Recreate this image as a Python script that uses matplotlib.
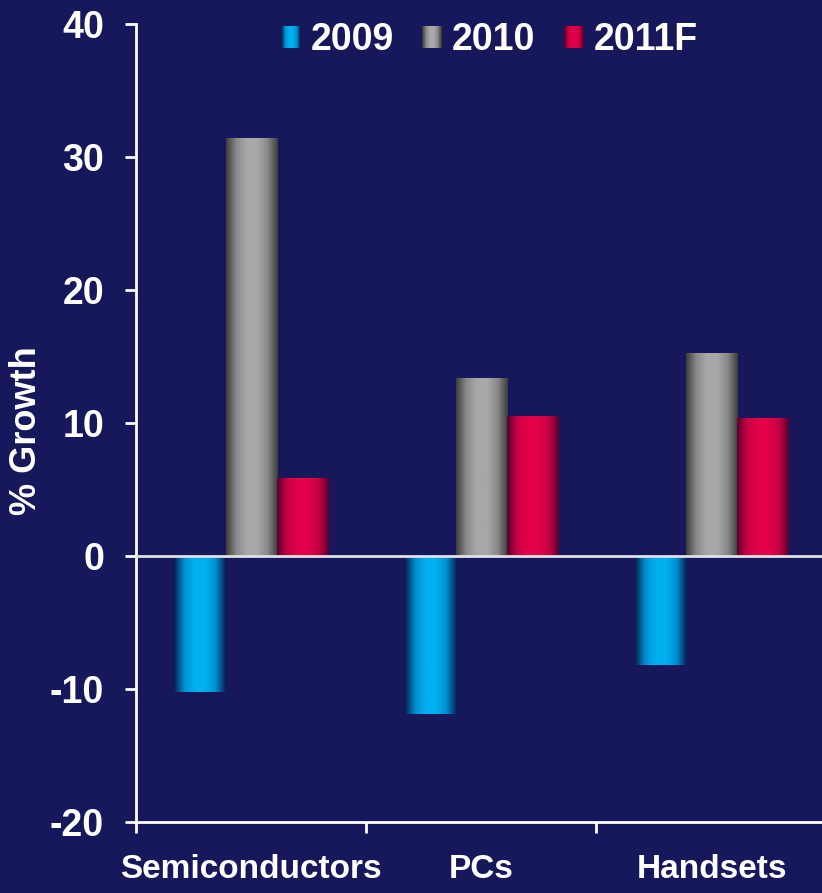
import numpy as np
import matplotlib
matplotlib.use("Agg")
import matplotlib.pyplot as plt
from matplotlib.patches import Rectangle
from matplotlib.legend_handler import HandlerBase
from matplotlib.colors import LinearSegmentedColormap

categories = ["Semiconductors", "PCs", "Handsets"]
series = ["2009", "2010", "2011F"]
v2009 = [-10.2, -11.85, -8.2]
v2010 = [31.4, 13.35, 15.3]
v2011 = [5.9, 10.5, 10.4]
values = [v2009, v2010, v2011]
yticks = [-20, -10, 0, 10, 20, 30, 40]

BG = "#17175c"
grad_colors = [
    ["#0a1f55", "#0090d0", "#00b0f0", "#00b0f0", "#0090d0", "#0a1f55"],
    ["#3c3c3c", "#8a8a8a", "#a8a8a8", "#a8a8a8", "#8a8a8a", "#3c3c3c"],
    ["#5a0030", "#c80045", "#e3004a", "#e3004a", "#c80045", "#5a0030"],
]
cmaps = [LinearSegmentedColormap.from_list(f"g{i}", c) for i, c in enumerate(grad_colors)]

plt.rcParams['font.family'] = ['Liberation Sans', 'DejaVu Sans']
plt.rcParams['font.weight'] = 'bold'

fig = plt.figure(figsize=(8.22, 8.93), dpi=100, facecolor=BG)
ax = fig.add_axes([136/822, 1-822/893, 1-136/822, (822-24)/893])
ax.set_facecolor(BG)

x = np.arange(len(categories))
w = 0.222
grad = np.linspace(0, 1, 256).reshape(1, -1)
for i, (vals, cm) in enumerate(zip(values, cmaps)):
    bars = ax.bar(x + (i - 1) * w, vals, width=w, color="none", edgecolor="none", zorder=2)
    for b in bars:
        x0, y0 = b.get_x(), b.get_y()
        bw, bh = b.get_width(), b.get_height()
        im = ax.imshow(grad, cmap=cm, aspect="auto",
                       extent=[x0, x0 + bw, min(y0, y0 + bh), max(y0, y0 + bh)],
                       zorder=2, interpolation="bilinear")
        im.set_clip_path(b)

ax.axhline(0, color="#e0e0e8", lw=2, zorder=3)
ax.set_xlim(-0.5, 2.48)
ax.set_ylim(-20, 40)
ax.set_yticks(yticks)
ax.set_yticklabels([str(t) for t in yticks])
ax.set_xticks([-0.5, 0.5, 1.5])
ax.set_xticklabels([])
ax.set_xticks(x, minor=True)
ax.set_xticklabels(categories, minor=True, fontsize=24, fontweight="bold", color="white")
ax.tick_params(axis="x", which="minor", length=0, pad=23)
ax.tick_params(axis="x", which="major", length=8, width=2, color="white", direction="out")
ax.tick_params(axis="y", length=8, width=2, color="white", labelsize=27, labelcolor="white", pad=15)
for s in ["top", "right"]:
    ax.spines[s].set_visible(False)
for s in ["left", "bottom"]:
    ax.spines[s].set_color("white")
    ax.spines[s].set_linewidth(2)
fig.text(27/822, 1-431/893, "% Growth", rotation=90, ha="center", va="center",
         fontsize=26, fontweight="bold", color="white")


class GradHandler(HandlerBase):
    def __init__(self, cmap):
        super().__init__()
        self.cmap = cmap

    def create_artists(self, legend, orig_handle, xdescent, ydescent, width, height, fontsize, trans):
        n = 20
        arts = []
        for k in range(n):
            r = Rectangle((-xdescent + k * width / n, -ydescent), width / n + 0.3, height,
                          facecolor=self.cmap(k / (n - 1)), edgecolor="none", transform=trans)
            arts.append(r)
        return arts


handles = [Rectangle((0, 0), 1, 1) for _ in series]
leg = ax.legend(handles, series, handler_map={h: GradHandler(cm) for h, cm in zip(handles, cmaps)},
                loc="upper center", bbox_to_anchor=(0.515, 1.045), ncol=3, frameon=False,
                handlelength=0.53, handleheight=0.53, handletextpad=0.27,
                columnspacing=0.75, labelcolor="white", prop={"weight": "bold", "size": 27})

fig.savefig("out.png", dpi=100, facecolor=BG)
